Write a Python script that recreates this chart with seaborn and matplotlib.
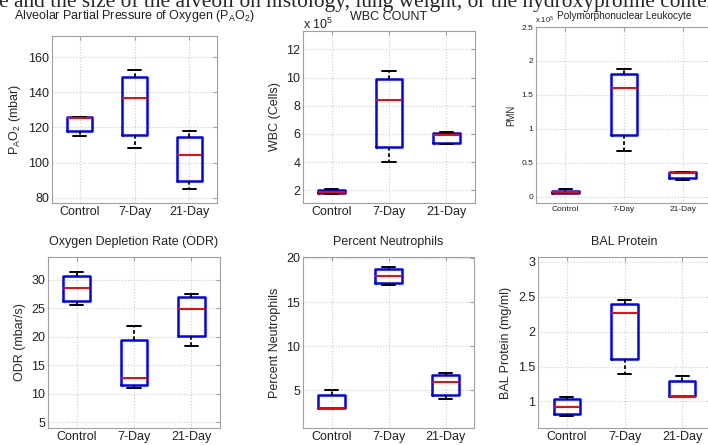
import numpy as np
import pandas as pd
import seaborn as sns
import matplotlib.pyplot as plt
from matplotlib.ticker import FuncFormatter

groups = ["Control", "7-Day", "21-Day"]

# five-number summaries: min, q1, median, q3, max
pao2 = [[115.3, 117.7, 125.5, 126.1, 126.1],
        [108.3, 115.5, 137.0, 148.8, 152.8],
        [85.0, 89.7, 104.3, 114.7, 118.0]]
wbc = [[1.72e5, 1.80e5, 1.86e5, 2.03e5, 2.08e5],
       [3.99e5, 5.10e5, 8.42e5, 9.91e5, 10.46e5],
       [5.25e5, 5.39e5, 5.89e5, 6.07e5, 6.14e5]]
pmn = [[0.05e5, 0.055e5, 0.065e5, 0.09e5, 0.11e5],
       [0.68e5, 0.91e5, 1.60e5, 1.81e5, 1.88e5],
       [0.25e5, 0.28e5, 0.35e5, 0.36e5, 0.367e5]]
odr = [[25.5, 26.2, 28.6, 30.6, 31.45],
       [11.05, 11.5, 12.7, 19.5, 21.9],
       [18.3, 20.1, 24.9, 26.9, 27.55]]
neut = [[3.0, 3.0, 3.0, 4.5, 5.08],
        [16.97, 17.2, 17.96, 18.7, 19.0],
        [4.0, 4.53, 6.0, 6.75, 7.0]]
bal = [[0.79, 0.82, 0.92, 1.035, 1.06],
       [1.39, 1.61, 2.27, 2.40, 2.45],
       [1.08, 1.08, 1.08, 1.30, 1.37]]

titles = [r"Alveolar Partial Pressure of Oxygen ($\mathregular{P_AO_2}$)",
          "WBC COUNT", "Polymorphonuclear Leukocyte",
          "Oxygen Depletion Rate (ODR)", "Percent Neutrophils", "BAL Protein"]
ylabels = [r"$\mathregular{P_AO_2}$ (mbar)", "WBC (Cells)", "PMN",
           "ODR (mbar/s)", "Percent Neutrophils", "BAL Protein (mg/ml)"]

sns.set_style("white")
plt.rcParams["font.family"] = ["Liberation Sans", "DejaVu Sans"]

W, H = 708, 445
fig = plt.figure(figsize=(W / 100, H / 100), dpi=100)


def px_axes(l, r, t, b):
    return fig.add_axes([l / W, 1 - b / H, (r - l) / W, (b - t) / H])


# pixel boxes: left, right, top, bottom
boxes = [(52, 217, 36, 203), (303, 475, 31, 203), (536, 712, 27, 203),
         (48, 220, 257, 428), (303, 474, 257, 428), (538, 711, 257, 428)]
ylims = [(77, 172), (1.1e5, 13.3e5), (-0.09e5, 2.5e5),
         (4, 34), (0.75, 20.1), (0.62, 3.07)]
yticks = [np.arange(80, 161, 20), np.arange(2, 13, 2) * 1e5,
          np.arange(0, 2.6, 0.5) * 1e5, np.arange(5, 31, 5),
          [5, 10, 15, 20], [1, 1.5, 2, 2.5, 3]]
datasets = [pao2, wbc, pmn, odr, neut, bal]
small = [False, False, True, False, False, False]
title_y = [15.7, 16.7, 15.7, 241.7, 241.7, 241.7]

for i, vals in enumerate(datasets):
    ax = px_axes(*boxes[i])
    df = pd.DataFrame({
        "group": np.repeat(groups, 5),
        "value": np.concatenate(vals),
    })
    fs = 6 if small[i] else 9
    sns.boxplot(data=df, x="group", y="value", order=groups, ax=ax,
                whis=(0, 100), width=0.46, fill=False, showfliers=False,
                color="blue",
                boxprops=dict(color="blue", linewidth=1.8),
                whiskerprops=dict(color="black", linestyle=(0, (2, 1.5)), linewidth=1.3),
                capprops=dict(color="black", linewidth=1.4),
                medianprops=dict(color="red", linewidth=1.4))
    ax.set_xlim(-0.5, 2.5)
    ax.set_ylim(*ylims[i])
    ax.set_yticks(yticks[i])
    if i in (1, 2):
        ax.yaxis.set_major_formatter(FuncFormatter(lambda v, p: f"{v / 1e5:g}"))
    else:
        ax.yaxis.set_major_formatter(FuncFormatter(lambda v, p: f"{v:g}"))
    ax.set_xlabel("")
    ax.set_ylabel(ylabels[i], fontsize=7 if small[i] else fs)
    ax.grid(True, linestyle=":", color="#cccccc", linewidth=0.8)
    ax.set_axisbelow(True)
    for s in ax.spines.values():
        s.set_color("#a0a0a0")
        s.set_linewidth(0.8)
    ax.tick_params(direction="in", length=3, color="#a0a0a0", labelcolor="#222222",
                   labelsize=fs, right=True, top=True, pad=2)
    l, r, t, b = boxes[i]
    cx = (l + r) / 2
    fig.text(cx / W, 1 - title_y[i] / H, titles[i], ha="center", va="center",
             fontsize=7.2 if small[i] else 9, color="#222222")

fig.text(303 / W, 1 - 24 / H, r"x $\mathregular{10^5}$", va="center", fontsize=9, color="#222222")
fig.text(535 / W, 1 - 20.5 / H, r"x $\mathregular{10^5}$", va="center", fontsize=5.5, color="#222222")

# clipped line of the surrounding paper text above the figure
fig.text(-0.002, 1 - 7 / H,
         "e and the size of the alveoli on histology, lung weight, or the hydroxyproline content",
         family=["Liberation Serif", "DejaVu Serif"], fontsize=15.4, va="baseline")

fig.savefig("out.png", dpi=100)
